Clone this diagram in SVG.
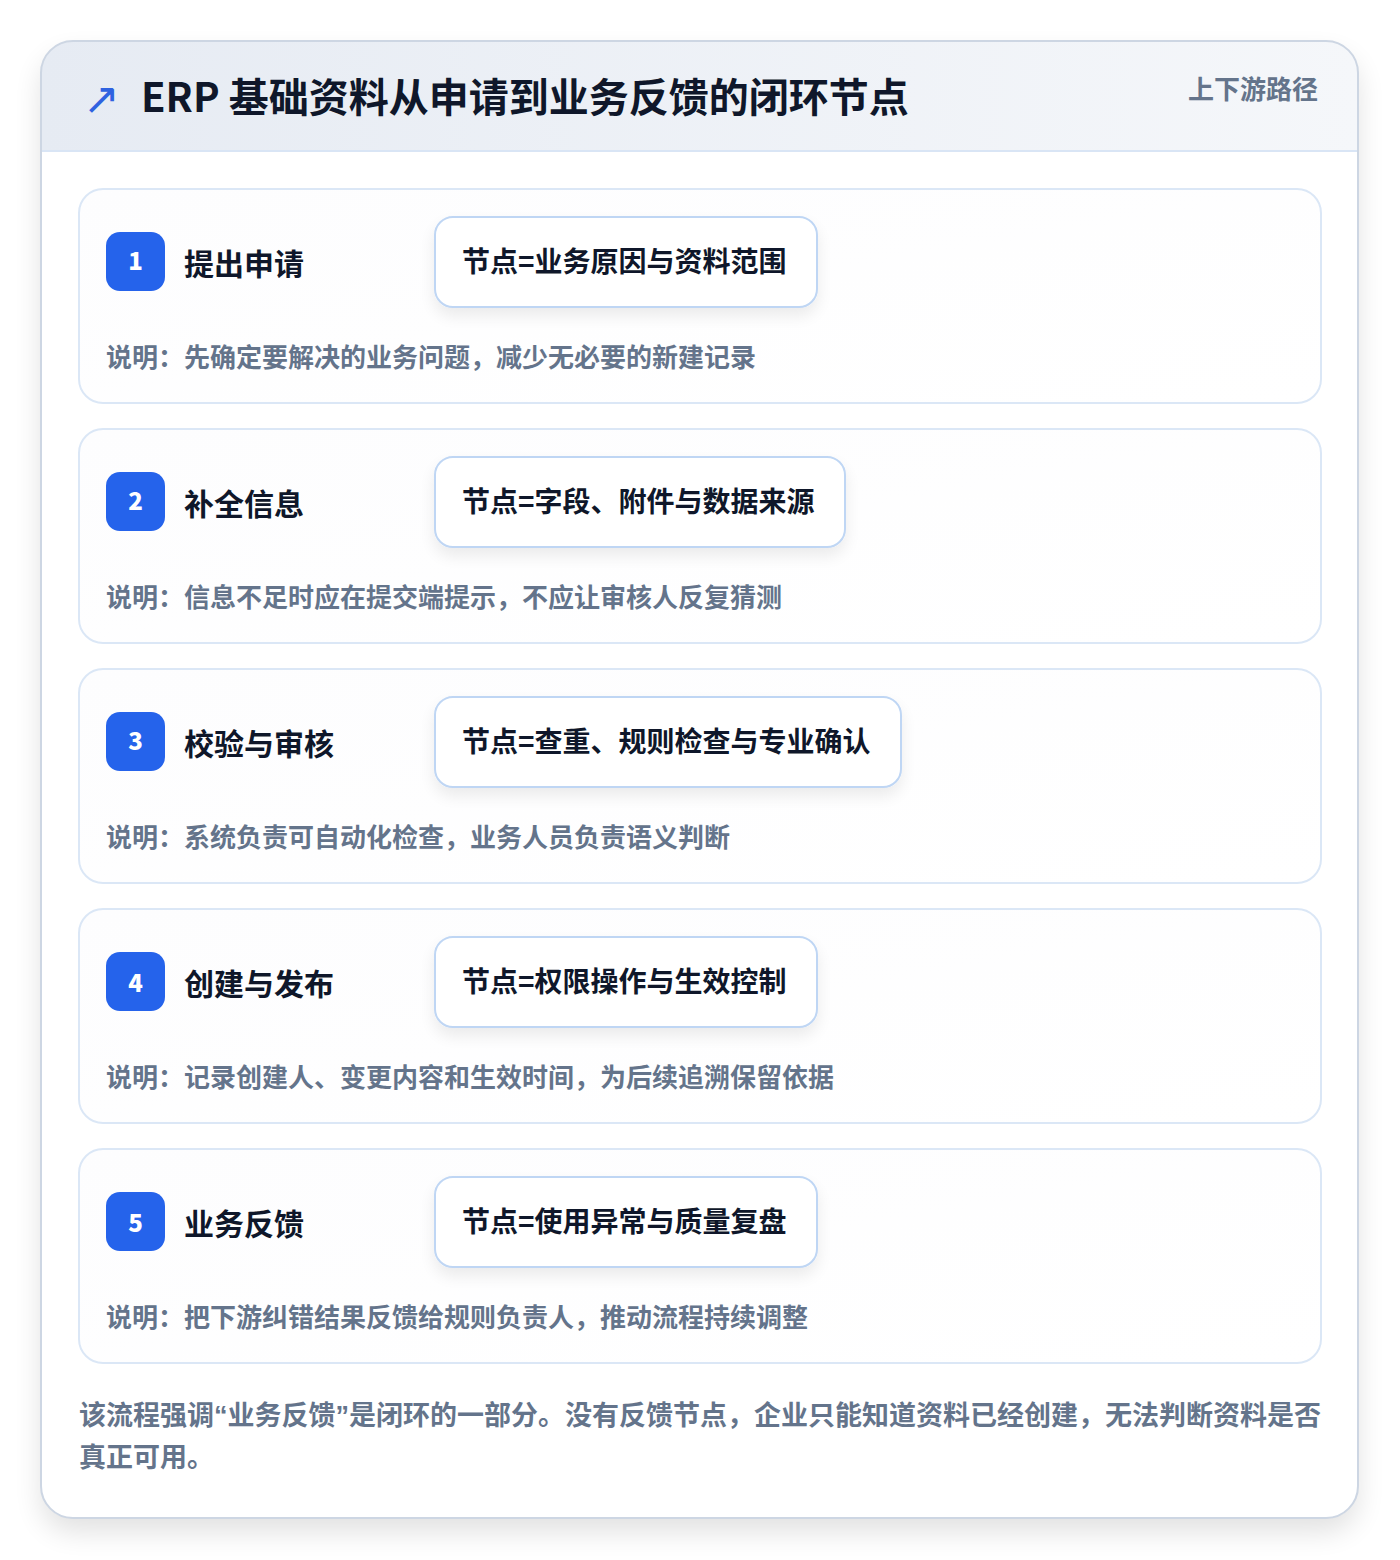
<svg xmlns="http://www.w3.org/2000/svg" width="1400" height="1560" viewBox="0 0 1400 1560">
<defs>
<linearGradient id="hdr" x1="0" y1="0" x2="1" y2="0">
<stop offset="0" stop-color="#e6ebf3"/>
<stop offset="1" stop-color="#f5f7fa"/>
</linearGradient>
<linearGradient id="cardbg" x1="0" y1="0" x2="1" y2="1">
<stop offset="0" stop-color="#fdfdfe"/>
<stop offset="1" stop-color="#ffffff"/>
</linearGradient>
<filter id="outerShadow" x="-10%" y="-10%" width="120%" height="120%">
<feGaussianBlur in="SourceAlpha" stdDeviation="14"/>
<feOffset dy="14" result="b"/>
<feComponentTransfer><feFuncA type="linear" slope="0.12"/></feComponentTransfer>
<feMerge><feMergeNode/><feMergeNode in="SourceGraphic"/></feMerge>
</filter>
<filter id="nodeShadow" x="-20%" y="-30%" width="140%" height="170%">
<feGaussianBlur in="SourceAlpha" stdDeviation="8"/>
<feOffset dy="8" result="b"/>
<feComponentTransfer><feFuncA type="linear" slope="0.08"/></feComponentTransfer>
<feMerge><feMergeNode/><feMergeNode in="SourceGraphic"/></feMerge>
</filter>
<clipPath id="outerClip"><rect x="41" y="41" width="1317" height="1477" rx="32"/></clipPath>
</defs>
<style>
.t{font-family:"Noto Sans CJK SC","Noto Sans",sans-serif;font-weight:700}
.card{fill:url(#cardbg);stroke:#dbe7f6;stroke-width:2}
.badge{fill:#2563eb}
.num{fill:#ffffff;font-size:24px;font-weight:900;text-anchor:middle}
.step{fill:#0f172a;font-size:30px}
.nbox{fill:#ffffff;stroke:#bfd6f4;stroke-width:2}
.ntext{fill:#0f172a;font-size:28px}
.desc{fill:#64748b;font-size:26px}
.note{fill:#64748b;font-size:27px}
.q{font-family:"Liberation Sans",sans-serif}
</style>
<rect x="0" y="0" width="1400" height="1560" fill="#ffffff"/>
<g id="frame">
<rect x="41" y="41" width="1317" height="1477" rx="32" fill="#ffffff" filter="url(#outerShadow)"/>
<rect x="41" y="41" width="1317" height="110" fill="url(#hdr)" clip-path="url(#outerClip)"/>
<line x1="41" y1="151" x2="1358" y2="151" stroke="#d9e5f5" stroke-width="2"/>
<rect x="41" y="41" width="1317" height="1477" rx="32" fill="none" stroke="#cdd6e3" stroke-width="2"/>
</g>
<g id="header">
<text x="83" y="114" font-family="DejaVu Sans,sans-serif" font-size="44" fill="#2f62e0">↗</text>
<text class="t" x="141" y="112" font-size="40" font-weight="900" fill="#0f172a">ERP 基础资料从申请到业务反馈的闭环节点</text>
<text class="t" x="1318" y="99" font-size="26" fill="#64748b" text-anchor="end">上下游路径</text>
</g>
<g id="step1">
<rect class="card" x="79" y="189" width="1242" height="214" rx="24"/>
<rect class="badge" x="106" y="232" width="59" height="59" rx="14"/>
<text class="t num" x="135.5" y="270">1</text>
<text class="t step" x="184" y="275">提出申请</text>
<rect class="nbox" x="435" y="217" width="382" height="90" rx="18" filter="url(#nodeShadow)"/>
<text class="t ntext" x="462" y="272">节点=业务原因与资料范围</text>
<text class="t desc" x="106" y="367">说明：先确定要解决的业务问题，减少无必要的新建记录</text>
</g>
<g id="step2">
<rect class="card" x="79" y="429" width="1242" height="214" rx="24"/>
<rect class="badge" x="106" y="472" width="59" height="59" rx="14"/>
<text class="t num" x="135.5" y="510">2</text>
<text class="t step" x="184" y="515">补全信息</text>
<rect class="nbox" x="435" y="457" width="410" height="90" rx="18" filter="url(#nodeShadow)"/>
<text class="t ntext" x="462" y="512">节点=字段、附件与数据来源</text>
<text class="t desc" x="106" y="607">说明：信息不足时应在提交端提示，不应让审核人反复猜测</text>
</g>
<g id="step3">
<rect class="card" x="79" y="669" width="1242" height="214" rx="24"/>
<rect class="badge" x="106" y="712" width="59" height="59" rx="14"/>
<text class="t num" x="135.5" y="750">3</text>
<text class="t step" x="184" y="755">校验与审核</text>
<rect class="nbox" x="435" y="697" width="466" height="90" rx="18" filter="url(#nodeShadow)"/>
<text class="t ntext" x="462" y="752">节点=查重、规则检查与专业确认</text>
<text class="t desc" x="106" y="847">说明：系统负责可自动化检查，业务人员负责语义判断</text>
</g>
<g id="step4">
<rect class="card" x="79" y="909" width="1242" height="214" rx="24"/>
<rect class="badge" x="106" y="952" width="59" height="59" rx="14"/>
<text class="t num" x="135.5" y="992">4</text>
<text class="t step" x="184" y="995">创建与发布</text>
<rect class="nbox" x="435" y="937" width="382" height="90" rx="18" filter="url(#nodeShadow)"/>
<text class="t ntext" x="462" y="992">节点=权限操作与生效控制</text>
<text class="t desc" x="106" y="1087">说明：记录创建人、变更内容和生效时间，为后续追溯保留依据</text>
</g>
<g id="step5">
<rect class="card" x="79" y="1149" width="1242" height="214" rx="24"/>
<rect class="badge" x="106" y="1192" width="59" height="59" rx="14"/>
<text class="t num" x="135.5" y="1232">5</text>
<text class="t step" x="184" y="1235">业务反馈</text>
<rect class="nbox" x="435" y="1177" width="382" height="90" rx="18" filter="url(#nodeShadow)"/>
<text class="t ntext" x="462" y="1232">节点=使用异常与质量复盘</text>
<text class="t desc" x="106" y="1327">说明：把下游纠错结果反馈给规则负责人，推动流程持续调整</text>
</g>
<g id="connectors"></g>
<g id="note">
<text class="t note" x="79" y="1425">该流程强调<tspan class="q">“</tspan>业务反馈<tspan class="q">”</tspan>是闭环的一部分。没有反馈节点，企业只能知道资料已经创建，无法判断资料是否</text>
<text class="t note" x="79" y="1467">真正可用。</text>
</g>
</svg>
